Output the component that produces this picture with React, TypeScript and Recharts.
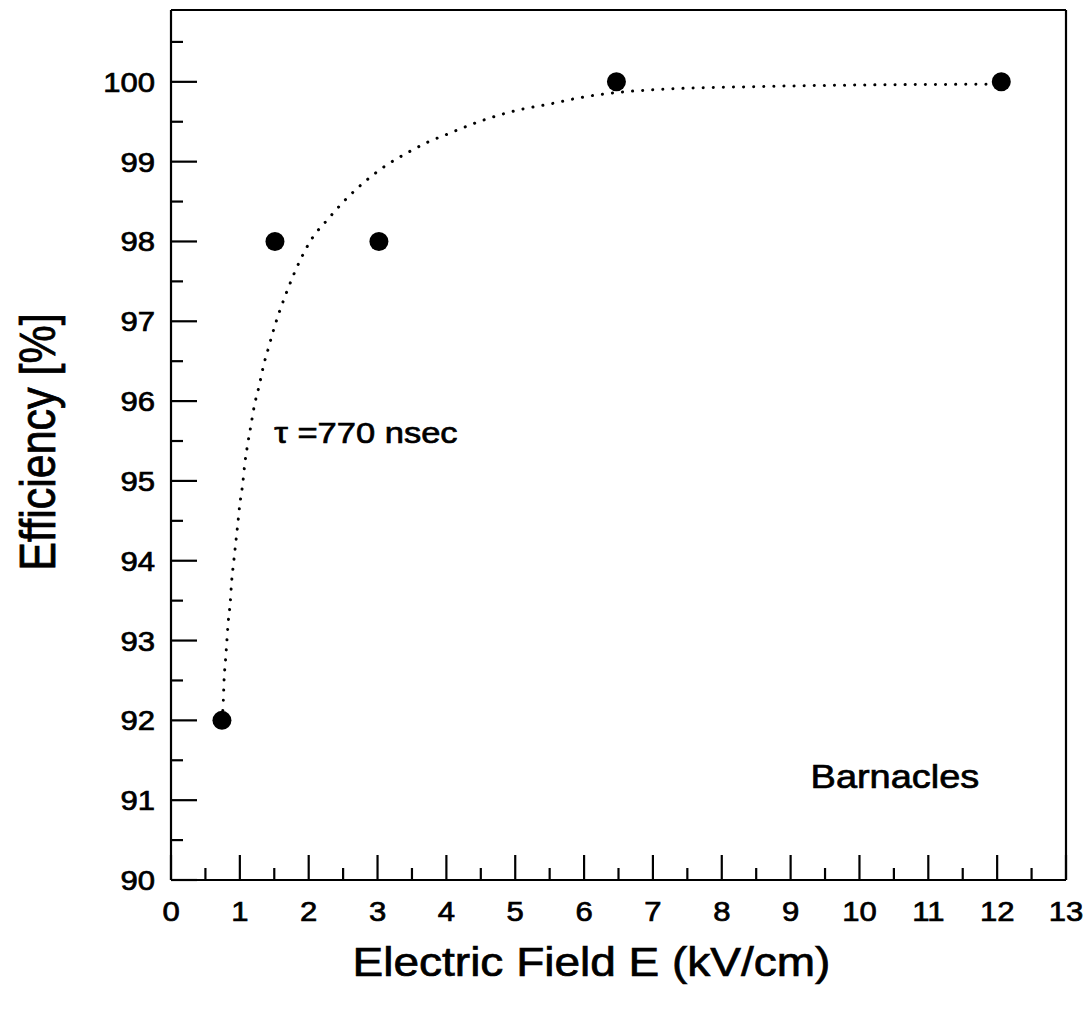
import React from 'react';
import { ComposedChart, XAxis, YAxis, Line, Scatter, ReferenceLine, ReferenceDot } from 'recharts';

const measuredField = [0.74, 1.51, 3.02, 6.47, 12.06];
const measuredEfficiency = [92, 98, 98, 100, 100];

const fitField = [
  0.74, 0.76, 0.77, 0.79, 0.81, 0.83, 0.86, 0.88, 0.91, 0.94, 0.97, 1.0, 1.04, 1.07, 1.11, 1.16,
  1.21, 1.28, 1.34, 1.42, 1.5, 1.7, 1.89, 2.05, 2.27, 2.53, 2.83, 3.12, 3.43, 3.72, 4.03, 4.47,
  5.06, 5.49, 5.93, 6.22, 6.65, 7.22, 8.5, 10.0, 12.06,
];
const fitEfficiency = [
  92.0, 92.24, 92.49, 92.73, 92.97, 93.22, 93.47, 93.73, 93.98, 94.22, 94.46, 94.71, 94.95, 95.2,
  95.44, 95.69, 95.94, 96.19, 96.43, 96.68, 96.92, 97.41, 97.79, 98.04, 98.27, 98.52, 98.76, 98.95,
  99.11, 99.24, 99.35, 99.5, 99.65, 99.72, 99.8, 99.84, 99.88, 99.91, 99.94, 99.96, 99.97,
];

const xTicks = [
  0, 0.5, 1, 1.5, 2, 2.5, 3, 3.5, 4, 4.5, 5, 5.5, 6, 6.5, 7, 7.5, 8, 8.5, 9, 9.5, 10, 10.5, 11, 11.5,
  12, 12.5, 13,
];
const yTicks = [
  90, 90.5, 91, 91.5, 92, 92.5, 93, 93.5, 94, 94.5, 95, 95.5, 96, 96.5, 97, 97.5, 98, 98.5, 99,
  99.5, 100, 100.5,
];
const xDomain = [0, 13];
const yDomain = [90, 100.9];

const xTitle = 'Electric Field E (kV/cm)';
const yTitle = 'Efficiency [%]';
const tauNote = 'τ =770 nsec';
const tauNoteAt = { x: 1.5, y: 95.48 };
const sampleNote = 'Barnacles';
const sampleNoteAt = { x: 9.29, y: 91.15 };

const FONT = '"Liberation Sans", Arial, Helvetica, sans-serif';
const STRETCH = 1.15;

const measured = measuredField.map((x, i) => ({ x, y: measuredEfficiency[i] }));
const fit = fitField.map((x, i) => ({ x, y: fitEfficiency[i] }));

const StretchText = ({ x, y, size, anchor, children, rotate }: any) => (
  <g transform={`translate(${x},${y}) scale(${STRETCH},1)${rotate ? ` rotate(${rotate})` : ''}`}>
    <text
      x={0}
      y={0}
      textAnchor={anchor}
      fontFamily={FONT}
      fontSize={size}
      fill="#000"
      stroke="#000"
      strokeWidth={0.7}
    >
      {children}
    </text>
  </g>
);

const XTick = (props: any) => {
  const { x, y, payload } = props;
  const v = payload.value;
  const major = Number.isInteger(v);
  return (
    <g>
      <line x1={x} y1={y} x2={x} y2={y - (major ? 25 : 12)} stroke="#000" strokeWidth={2.2} />
      {major && (
        <StretchText x={x} y={y + 41} size={27} anchor="middle">
          {v}
        </StretchText>
      )}
    </g>
  );
};

const YTick = (props: any) => {
  const { x, y, payload } = props;
  const v = payload.value;
  const major = Number.isInteger(v);
  return (
    <g>
      <line x1={x} y1={y} x2={x + (major ? 26 : 12)} y2={y} stroke="#000" strokeWidth={2.2} />
      {major && (
        <StretchText x={x - 16} y={y + 10} size={27} anchor="end">
          {v}
        </StretchText>
      )}
    </g>
  );
};

const XTitle = (props: any) => {
  const vb = props.viewBox;
  return (
    <StretchText x={vb.x + vb.width / 2 - 27} y={vb.y + 96} size={40} anchor="middle">
      {xTitle}
    </StretchText>
  );
};

const YTitle = (props: any) => {
  const vb = props.viewBox;
  return (
    <StretchText x={55} y={vb.y + vb.height / 2 - 3} size={43} anchor="middle" rotate={-90}>
      {yTitle}
    </StretchText>
  );
};

const noteLabel = (text: string, size: number) => (props: any) => {
  const vb = props.viewBox;
  return (
    <StretchText x={vb.x + vb.width / 2} y={vb.y + vb.height / 2} size={size} anchor="start">
      {text}
    </StretchText>
  );
};

export default function App() {
  return (
    <div style={{ position: 'absolute', left: 0, top: 0, background: '#fff' }}>
      <ComposedChart width={1088} height={1012} margin={{ top: 10, right: 22, bottom: 0, left: 0 }}>
        <XAxis
          dataKey="x"
          type="number"
          domain={xDomain}
          ticks={xTicks}
          interval={0}
          height={132}
          tickSize={0}
          tickMargin={0}
          tickLine={false}
          axisLine={{ stroke: '#000', strokeWidth: 2.2 }}
          tick={(p: any) => <XTick {...p} />}
          label={XTitle}
          allowDataOverflow
        />
        <YAxis
          dataKey="y"
          type="number"
          domain={yDomain}
          ticks={yTicks}
          interval={0}
          width={171}
          tickSize={0}
          tickMargin={0}
          tickLine={false}
          axisLine={{ stroke: '#000', strokeWidth: 2.2 }}
          tick={(p: any) => <YTick {...p} />}
          label={YTitle}
          allowDataOverflow
        />
        <ReferenceLine y={yDomain[1]} stroke="#000" strokeWidth={2.2} />
        <ReferenceLine x={xDomain[1]} stroke="#000" strokeWidth={2.2} />
        <Line
          data={fit}
          dataKey="y"
          type="monotone"
          stroke="#000"
          strokeWidth={3}
          strokeDasharray="0.1 10"
          strokeLinecap="round"
          dot={false}
          activeDot={false}
          isAnimationActive={false}
        />
        <Scatter
          data={measured}
          dataKey="y"
          fill="#000"
          isAnimationActive={false}
          shape={(p: any) => <circle cx={p.cx} cy={p.cy} r={9.5} fill="#000" />}
        />
        <ReferenceDot
          x={tauNoteAt.x}
          y={tauNoteAt.y}
          r={1}
          fill="none"
          stroke="none"
          label={noteLabel(tauNote, 30)}
        />
        <ReferenceDot
          x={sampleNoteAt.x}
          y={sampleNoteAt.y}
          r={1}
          fill="none"
          stroke="none"
          label={noteLabel(sampleNote, 33)}
        />
      </ComposedChart>
    </div>
  );
}
